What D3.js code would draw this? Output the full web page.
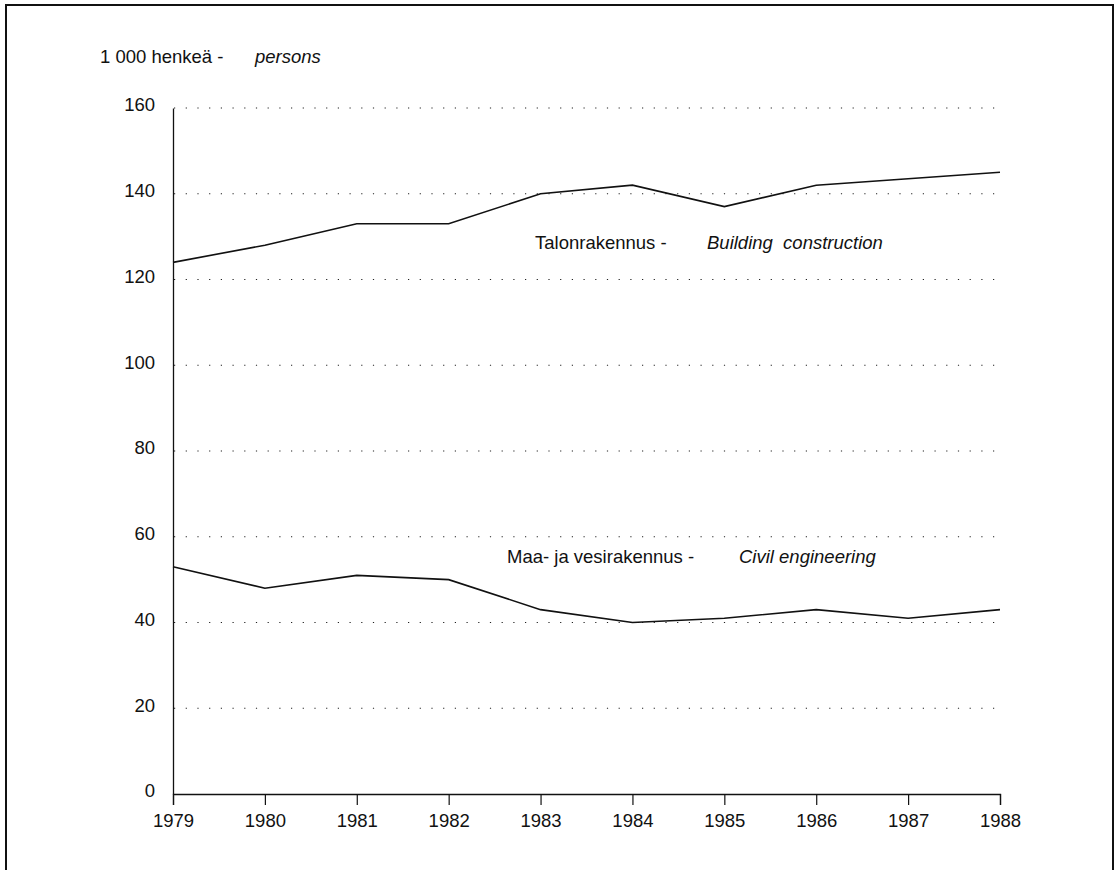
<!DOCTYPE html>
<html><head><meta charset="utf-8">
<script src="https://cdn.jsdelivr.net/npm/d3@7"></script>
<style>body{margin:0;background:#fff}svg{display:block}text{font-family:"Liberation Sans",Arial,Helvetica,sans-serif;fill:#111}</style>
</head><body>
<svg id="c" width="1116" height="870"></svg>
<script>
const years = [1979,1980,1981,1982,1983,1984,1985,1986,1987,1988];
const building = [124,128,133,133,140,142,137,142,143.5,145];
const civil = [53,48,51,50,43,40,41,43,41,43];
const yTicks = [0,20,40,60,80,100,120,140,160];
const gridTicks = [20,40,60,80,100,120,140,160];

const svg = d3.select("#c");
const x = d3.scaleLinear().domain([1979,1988]).range([173,1000]);
const y = d3.scaleLinear().domain([0,160]).range([794,108]);

// frame
svg.append("path").attr("d","M6,880 V5 H1113 V880").attr("fill","none").attr("stroke","#111").attr("stroke-width",2);

// grid
svg.append("g").selectAll("line").data(gridTicks).join("line")
  .attr("x1",174).attr("x2",1000).attr("y1",d=>y(d)).attr("y2",d=>y(d))
  .attr("stroke","#222").attr("stroke-width",1.2).attr("stroke-dasharray","1.2,10.5");

// y axis
const ya = svg.append("g").attr("transform","translate(173,0)")
  .call(d3.axisLeft(y).tickValues(yTicks).tickSize(0).tickPadding(18).tickFormat(d3.format("d")));
ya.select(".domain").attr("stroke","#111").attr("stroke-width",1.3);
ya.selectAll("text").attr("font-size",18.5).attr("font-family","Liberation Sans, Arial, sans-serif").attr("fill","#111").attr("dy","0.15em");

// x axis
const xa = svg.append("g").attr("transform","translate(0,794)")
  .call(d3.axisBottom(x).tickValues(years).tickSize(11).tickPadding(9).tickFormat(d3.format("d")));
xa.select(".domain").attr("stroke","#111").attr("stroke-width",1.3);
xa.selectAll(".tick line").attr("stroke","#111").attr("stroke-width",1.2);
xa.selectAll("text").attr("font-size",18.5).attr("font-family","Liberation Sans, Arial, sans-serif").attr("fill","#111");

// lines
const line = d3.line().x((d,i)=>x(years[i])).y(d=>y(d));
[building, civil].forEach(s=>{
  svg.append("path").datum(s).attr("d",line).attr("fill","none").attr("stroke","#111").attr("stroke-width",1.6);
});

// labels
const lab = (t,xx,yy,it)=>svg.append("text").attr("x",xx).attr("y",yy).attr("font-size",18.5)
  .attr("font-style",it?"italic":"normal").attr("xml:space","preserve").style("white-space","pre").text(t);
lab("1 000 henkeä -",100,63,false);
lab("persons",255,63,true);
lab("Talonrakennus -",535,249,false);
lab("Building  construction",707,249,true);
lab("Maa- ja vesirakennus -",507,563,false);
lab("Civil engineering",739,563,true);
</script>
</body></html>
